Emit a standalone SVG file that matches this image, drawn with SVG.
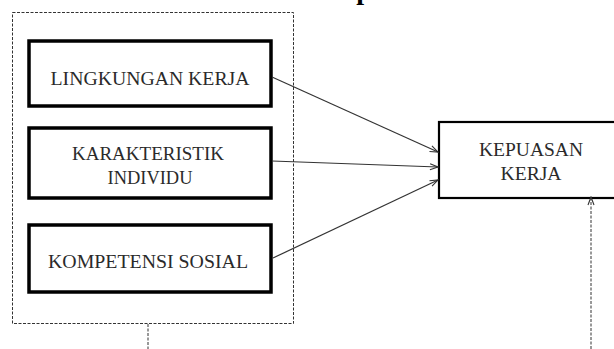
<svg xmlns="http://www.w3.org/2000/svg" width="614" height="349" viewBox="0 0 614 349">
<style>
.t{font-family:"Liberation Serif","Times New Roman",serif;font-size:18.5px;fill:#2a2a2a;text-anchor:middle}
.box{fill:#fff;stroke:#000;stroke-width:3.5}
.box2{fill:#fff;stroke:#000;stroke-width:2.2}
.dash{fill:none;stroke:#333;stroke-width:1;stroke-dasharray:3,1.5}
.conn{stroke:#333;stroke-width:1.2;fill:none;marker-end:url(#ah)}
</style>
<defs>
<marker id="ah" markerWidth="10" markerHeight="8" refX="9" refY="4" orient="auto" markerUnits="userSpaceOnUse">
<path d="M1,1 L9,4 L1,7" fill="none" stroke="#333" stroke-width="1.1"/>
</marker>
</defs>
<rect width="614" height="349" fill="#fff"/>
<text x="364" y="-1" style="font-family:'Liberation Serif',serif;font-size:28px;font-weight:bold;text-anchor:middle">p</text>
<g id="group-box">
<rect class="dash" x="12.5" y="12.5" width="281" height="311"/>
</g>
<g id="lingkungan-kerja">
<rect class="box" x="29" y="41" width="242" height="65"/>
<text class="t" x="150" y="85" textLength="199" lengthAdjust="spacingAndGlyphs">LINGKUNGAN KERJA</text>
</g>
<g id="karakteristik-individu">
<rect class="box" x="29" y="128" width="242" height="70"/>
<text class="t" x="148" y="160" textLength="152" lengthAdjust="spacingAndGlyphs">KARAKTERISTIK</text>
<text class="t" x="150" y="184" textLength="85" lengthAdjust="spacingAndGlyphs">INDIVIDU</text>
</g>
<g id="kompetensi-sosial">
<rect class="box" x="29" y="225" width="242" height="67"/>
<text class="t" x="148" y="268" textLength="200" lengthAdjust="spacingAndGlyphs">KOMPETENSI SOSIAL</text>
</g>
<g id="kepuasan-kerja">
<rect class="box2" x="439" y="122" width="190" height="76"/>
<text class="t" x="531" y="156" textLength="104" lengthAdjust="spacingAndGlyphs">KEPUASAN</text>
<text class="t" x="531" y="180" textLength="61" lengthAdjust="spacingAndGlyphs">KERJA</text>
</g>
<g id="connectors">
<path class="conn" d="M272,77 L438,152"/>
<path class="conn" d="M272,161 L438,167"/>
<path class="conn" d="M273,258 L438,180"/>
<path class="dash" d="M148,324 L148,349"/>
<path class="dash" d="M591,349 L591,197" marker-end="url(#ah)"/>
</g>
</svg>
